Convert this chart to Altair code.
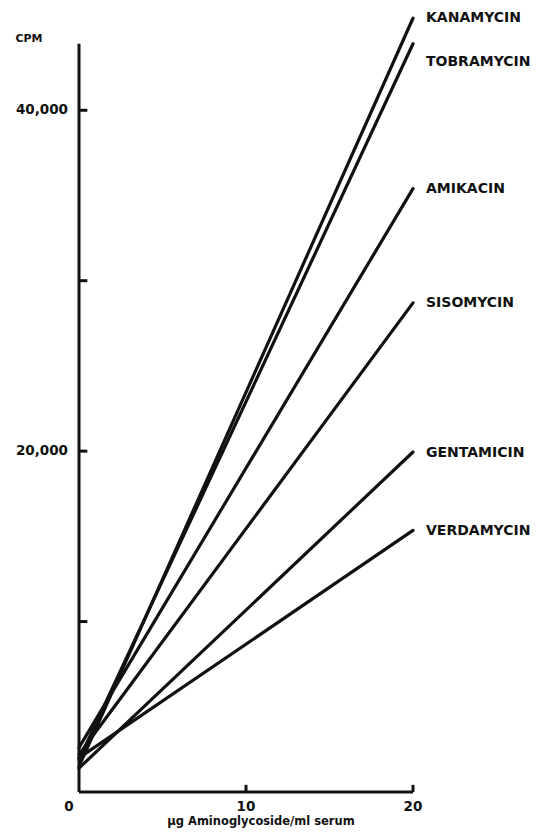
import altair as alt
import pandas as pd

# ---- data ----
drugs = ["KANAMYCIN", "TOBRAMYCIN", "AMIKACIN", "SISOMYCIN", "GENTAMICIN", "VERDAMYCIN"]
dose = [0, 20]                                   # µg aminoglycoside / ml serum
cpm_at_0 = [1500, 1900, 2600, 2200, 1400, 2000]
cpm_at_20 = [45400, 43900, 35400, 28700, 19950, 15350]
label_cpm = [45400, 42850, 35400, 28700, 19900, 15300]

y_tick_values = [10000, 20000, 30000, 40000]
y_label_values = [20000, 40000]
y_label_text = ["20,000", "40,000"]
x_tick_values = [10, 20]
x_label_values = [10, 20]
x_label_text = ["10", "20"]
y_axis_top = 43900

FONT = "DejaVu Sans"
W, H = 334, 784
INK = "#111111"

rows = []
for d, a, b in zip(drugs, cpm_at_0, cpm_at_20):
    rows.append({"drug": d, "dose": dose[0], "cpm": a})
    rows.append({"drug": d, "dose": dose[1], "cpm": b})
lines_df = pd.DataFrame(rows)
labels_df = pd.DataFrame({"drug": drugs, "dose": [dose[1]] * len(drugs), "cpm": label_cpm})

xs = alt.Scale(domain=[0, 20], nice=False, zero=False)
ys = alt.Scale(domain=[0, 46000], nice=False, zero=False)


def X(f):
    return alt.X(f, type="quantitative", scale=xs, axis=None)


def Y(f):
    return alt.Y(f, type="quantitative", scale=ys, axis=None)


INKC = alt.Color("c:N", scale=None, legend=None)

lines = alt.Chart(lines_df).mark_line(color=INK, strokeWidth=3.2, strokeCap="round").encode(
    x=X("dose"), y=Y("cpm"), detail="drug:N"
)
labels = alt.Chart(labels_df).mark_text(
    align="left", baseline="middle", dx=13, font=FONT, fontSize=14,
    fontWeight="bold", color=INK
).encode(x=X("dose"), y=Y("cpm"), text="drug:N")

# y axis line (stops short of the top, as in the original)
yaxis_df = pd.DataFrame({"xa": [0], "ya": [0], "yb": [y_axis_top], "c": [INK]})
yaxis = alt.Chart(yaxis_df).mark_rule(strokeWidth=3).encode(
    x=X("xa"), y=Y("ya"), y2=alt.Y2("yb"), color=INKC
)
# x axis line
xaxis_df = pd.DataFrame({"xa": [0], "xb": [20], "ya": [0], "c": [INK]})
xaxis = alt.Chart(xaxis_df).mark_rule(strokeWidth=3).encode(
    x=X("xa"), x2=alt.X2("xb"), y=Y("ya"), color=INKC
)

yticks_df = pd.DataFrame({"tv": y_tick_values, "xa": 0, "xb": 0.5, "c": INK})
yticks = alt.Chart(yticks_df).mark_rule(strokeWidth=3).encode(
    x=X("xa"), x2=alt.X2("xb"), y=Y("tv"), color=INKC
)
xticks_df = pd.DataFrame({"tv": x_tick_values, "xa": x_tick_values, "xb": x_tick_values,
                          "ya": 0, "yb": 420, "c": INK})
xticks = alt.Chart(xticks_df).mark_rule(strokeWidth=3).encode(
    x=X("xa"), x2=alt.X2("xb"), y=Y("ya"), y2=alt.Y2("yb"), color=INKC
)

ylab_df = pd.DataFrame({"tv": y_label_values, "t": y_label_text, "xa": 0})
ylabs = alt.Chart(ylab_df).mark_text(
    align="right", baseline="middle", dx=-11, font=FONT, fontSize=13.5, fontWeight="bold", color=INK
).encode(x=X("xa"), y=Y("tv"), text="t:N")

xlab_df = pd.DataFrame({"tv": x_label_values, "t": x_label_text, "ya": 0})
xlabs = alt.Chart(xlab_df).mark_text(
    align="center", baseline="middle", dy=15, font=FONT, fontSize=13.5, fontWeight="bold", color=INK
).encode(x=X("tv"), y=Y("ya"), text="t:N")
xzero = alt.Chart(pd.DataFrame({"tv": [0], "ya": [0], "t": ["0"]})).mark_text(
    align="center", baseline="middle", dx=-10, dy=15, font=FONT, fontSize=13.5, fontWeight="bold", color=INK
).encode(x=X("tv"), y=Y("ya"), text="t:N")

cpm_title = alt.Chart(pd.DataFrame({"xa": [0], "ya": [44200], "t": ["CPM"]})).mark_text(
    align="center", baseline="middle", dx=-50, font=FONT, fontSize=11, fontWeight="bold", color=INK
).encode(x=X("xa"), y=Y("ya"), text="t:N")

x_title = alt.Chart(pd.DataFrame({"xa": [10], "ya": [0], "t": ["μg Aminoglycoside/ml serum"]})).mark_text(
    align="center", baseline="middle", dx=15, dy=30, font=FONT, fontSize=11.5, fontWeight="bold", color=INK
).encode(x=X("xa"), y=Y("ya"), text="t:N")

chart = alt.layer(
    lines, labels, yaxis, xaxis, yticks, xticks, ylabs, xlabs, xzero, cpm_title, x_title
).properties(
    width=W, height=H,
    padding={"left": 71, "top": 0, "right": 118, "bottom": 37},
    autosize="none",
).configure(background="white", view=alt.ViewConfig(strokeWidth=0, stroke="transparent"))

chart.save("out.html", embed_options={"renderer": "svg", "actions": False})
